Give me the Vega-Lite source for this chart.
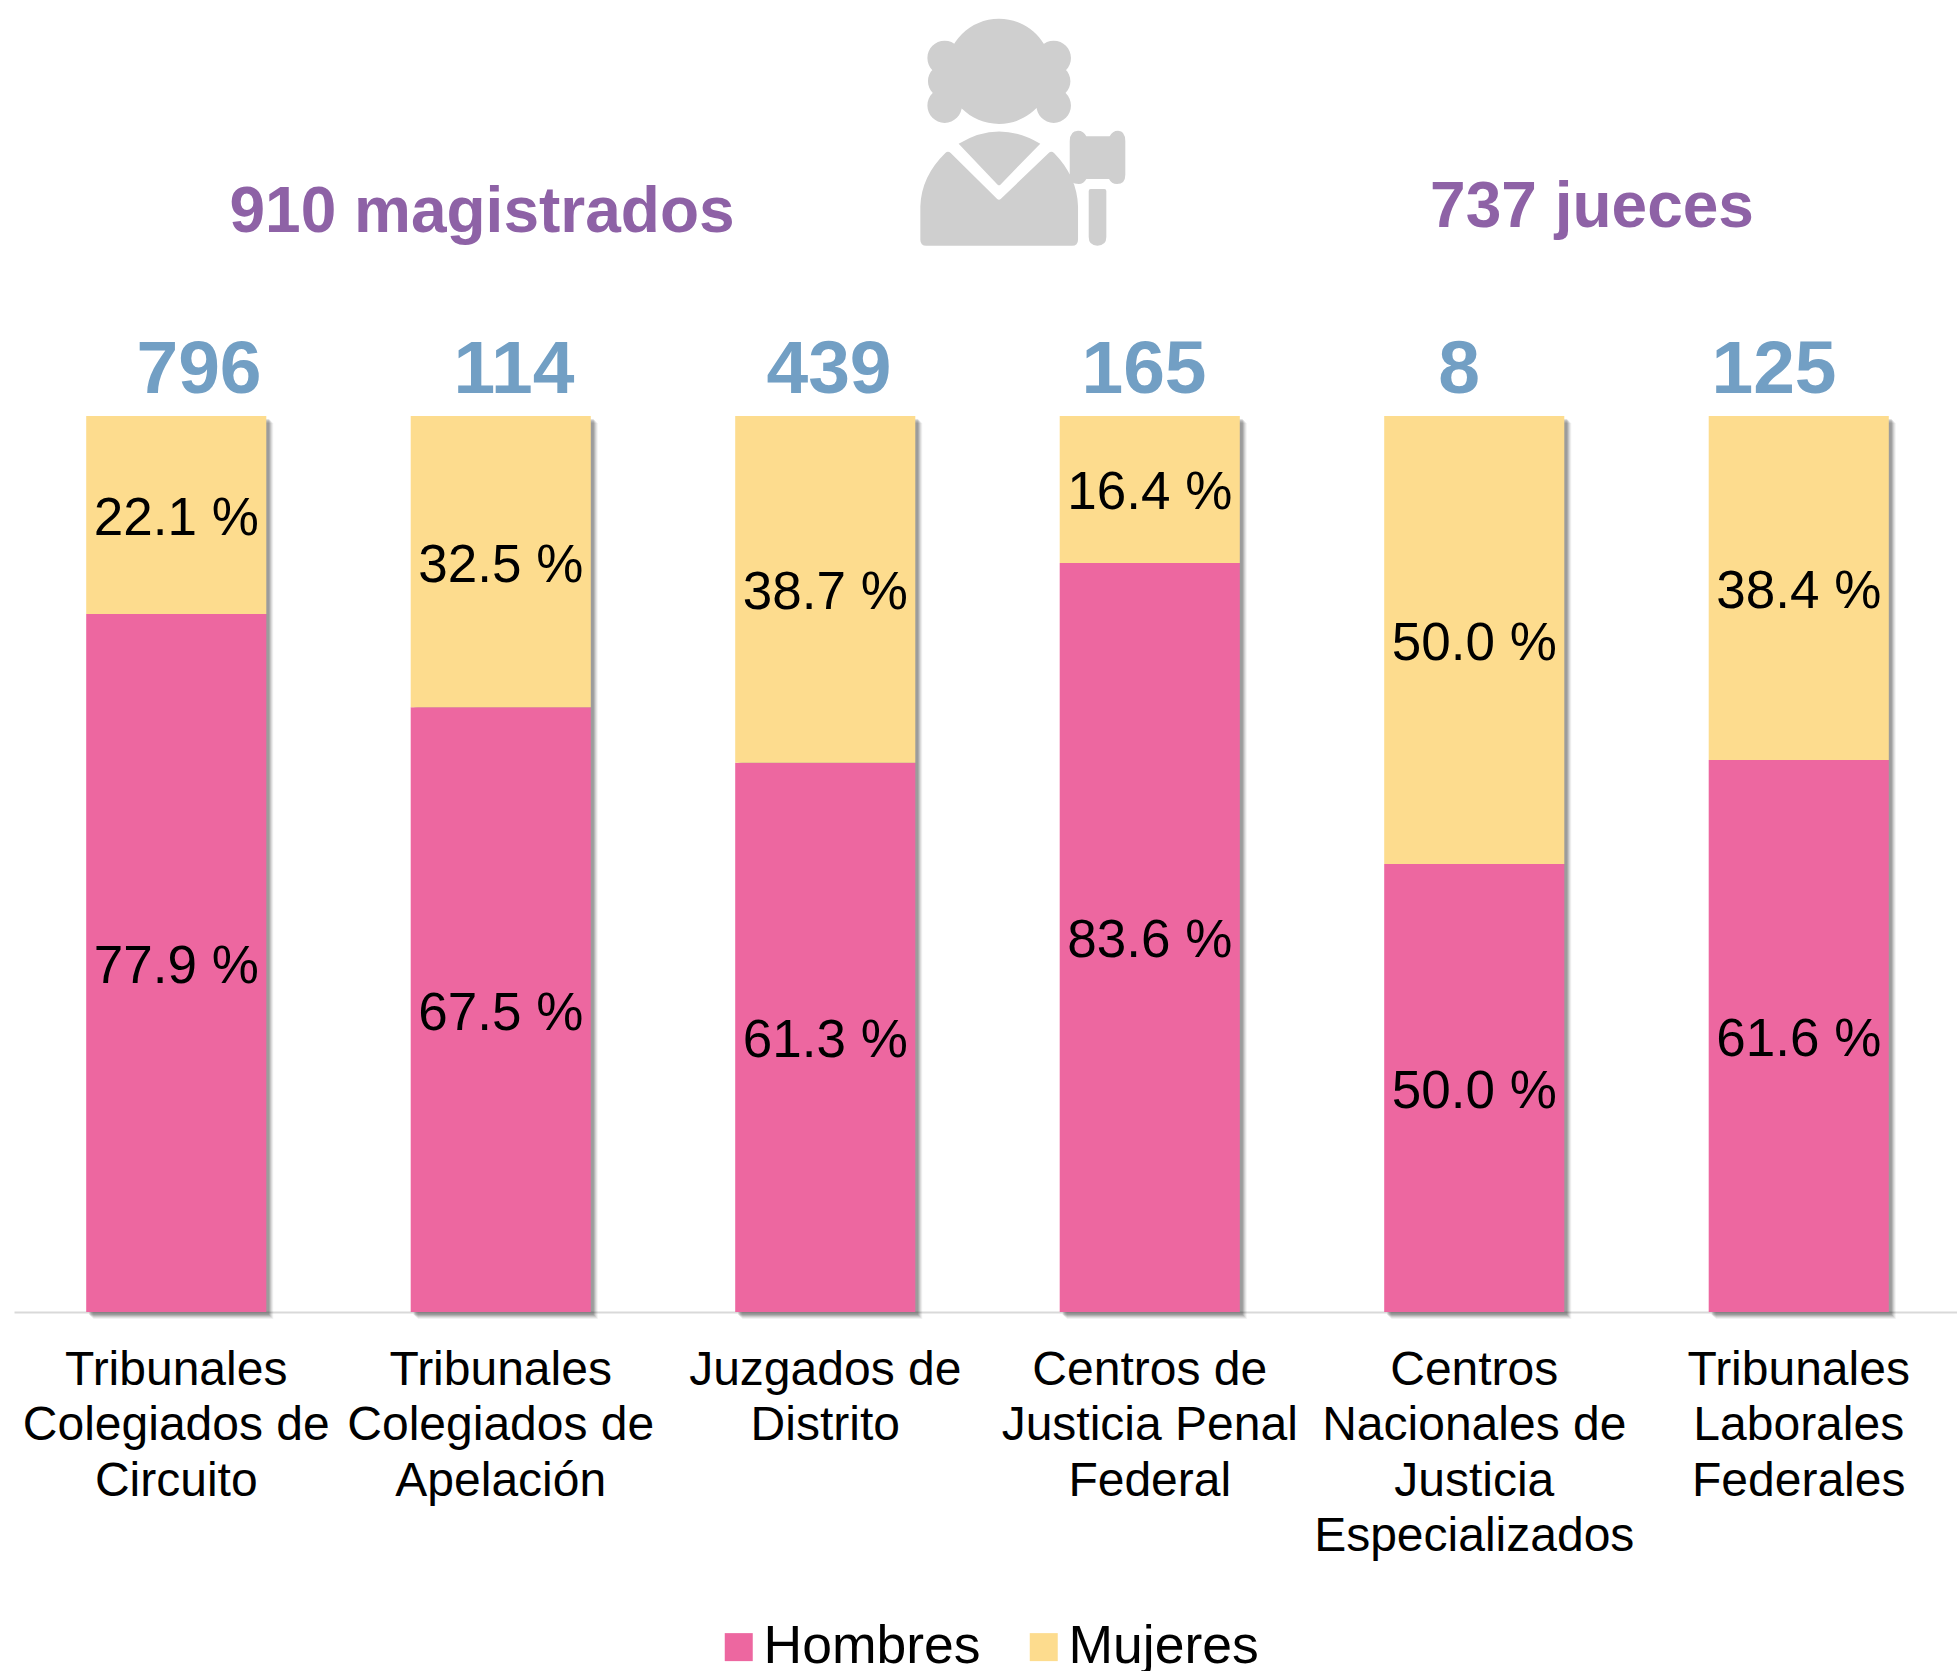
{
"$schema":"https://vega.github.io/schema/vega-lite/v6.json",
"autosize":"none",
"padding":{"left":14,"top":416,"right":0,"bottom":359},
"width":1943,"height":896,
"background":"white",
"config":{"view":{"stroke":null},"font":"Liberation Sans"},
"datasets":{
"segmentos":[
{"cat":"Tribunales Colegiados de Circuito","sexo":"Hombres","pct":77.9},
{"cat":"Tribunales Colegiados de Circuito","sexo":"Mujeres","pct":22.1},
{"cat":"Tribunales Colegiados de Apelación","sexo":"Hombres","pct":67.5},
{"cat":"Tribunales Colegiados de Apelación","sexo":"Mujeres","pct":32.5},
{"cat":"Juzgados de Distrito","sexo":"Hombres","pct":61.3},
{"cat":"Juzgados de Distrito","sexo":"Mujeres","pct":38.7},
{"cat":"Centros de Justicia Penal Federal","sexo":"Hombres","pct":83.6},
{"cat":"Centros de Justicia Penal Federal","sexo":"Mujeres","pct":16.4},
{"cat":"Centros Nacionales de Justicia Especializados","sexo":"Hombres","pct":50.0},
{"cat":"Centros Nacionales de Justicia Especializados","sexo":"Mujeres","pct":50.0},
{"cat":"Tribunales Laborales Federales","sexo":"Hombres","pct":61.6},
{"cat":"Tribunales Laborales Federales","sexo":"Mujeres","pct":38.4}
],
"totales":[
{"cat":"Tribunales Colegiados de Circuito","n":796,"total":100},
{"cat":"Tribunales Colegiados de Apelación","n":114,"total":100},
{"cat":"Juzgados de Distrito","n":439,"total":100},
{"cat":"Centros de Justicia Penal Federal","n":165,"total":100},
{"cat":"Centros Nacionales de Justicia Especializados","n":8,"total":100},
{"cat":"Tribunales Laborales Federales","n":125,"total":100}
],
"anuncios":[
{"grupo":"Magistrados","texto":"910 magistrados"},
{"grupo":"Jueces","texto":"737 jueces"}
],
"figura":[{"nombre":"Juez"}]
},
"resolve":{"scale":{"x":"independent","y":"independent"}},
"layer":[
{
"data":{"name":"totales"},
"layer":[
{"mark":{"type":"bar","color":"#000000","opacity":0.05,"xOffset":7,"yOffset":7,"y2Offset":7},"encoding":{}},
{"mark":{"type":"bar","color":"#000000","opacity":0.07,"xOffset":6,"yOffset":6,"y2Offset":6},"encoding":{}},
{"mark":{"type":"bar","color":"#000000","opacity":0.09,"xOffset":5,"yOffset":5,"y2Offset":5},"encoding":{}},
{"mark":{"type":"bar","color":"#000000","opacity":0.12,"xOffset":4,"yOffset":4,"y2Offset":4},"encoding":{}},
{"mark":{"type":"bar","color":"#000000","opacity":0.12,"xOffset":3,"yOffset":3,"y2Offset":3},"encoding":{}}
],
"encoding":{
"x":{"field":"cat","type":"nominal","sort":null,"axis":null,"scale":{"type":"band","range":[0,1947],"paddingInner":0.445,"paddingOuter":0.2225}},
"y":{"field":"total","type":"quantitative","axis":null,"scale":{"domain":[0,100],"range":[896,0]}}
}
},
{
"data":{"name":"segmentos"},
"transform":[
{"stack":"pct","groupby":["cat"],"sort":[{"field":"sexo","order":"ascending"}],"as":["y0","y1"]},
{"calculate":"(datum.y0+datum.y1)/2","as":"mid"},
{"calculate":"format(datum.pct,'.1f')+' %'","as":"etiqueta"}
],
"encoding":{
"x":{"field":"cat","type":"nominal","sort":["Tribunales Colegiados de Circuito","Tribunales Colegiados de Apelación","Juzgados de Distrito","Centros de Justicia Penal Federal","Centros Nacionales de Justicia Especializados","Tribunales Laborales Federales"],
"scale":{"type":"band","range":[0,1947],"paddingInner":0.445,"paddingOuter":0.2225},
"title":null,
"axis":{"orient":"bottom","domainColor":"#d9d9d9","domainWidth":2,"ticks":false,"grid":false,"labelAngle":0,"labelFont":"Liberation Sans","labelFontSize":48,"labelColor":"#000000","labelLineHeight":55.5,"labelPadding":34,"labelBaseline":"top","labelAlign":"center","labelLimit":0,"labelOverlap":false,"labelBound":false,"labelFlush":false,
"labelExpr":"{'Tribunales Colegiados de Circuito':['Tribunales','Colegiados de','Circuito'],'Tribunales Colegiados de Apelación':['Tribunales','Colegiados de','Apelación'],'Juzgados de Distrito':['Juzgados de','Distrito'],'Centros de Justicia Penal Federal':['Centros de','Justicia Penal','Federal'],'Centros Nacionales de Justicia Especializados':['Centros','Nacionales de','Justicia','Especializados'],'Tribunales Laborales Federales':['Tribunales','Laborales','Federales']}[datum.label]"}}
},
"layer":[
{"mark":{"type":"bar"},
"encoding":{
"y":{"field":"y0","type":"quantitative","axis":null,"scale":{"domain":[0,100],"range":[896,0]}},
"y2":{"field":"y1"},
"color":{"field":"sexo","type":"nominal","scale":{"domain":["Hombres","Mujeres"],"range":["#ed67a0","#fddc8e"]},
"legend":{"title":null,"orient":"none","legendX":698,"legendY":1204,"direction":"horizontal","columns":2,"symbolType":"square","symbolSize":784,"symbolStrokeWidth":0,"symbolOpacity":1,"labelFont":"Liberation Sans","labelFontSize":53.5,"labelColor":"#000000","labelOffset":-2,"columnPadding":36,"labelLimit":0,"padding":0}}
}},
{"mark":{"type":"text","font":"Liberation Sans","fontSize":53,"color":"#000000","baseline":"middle","align":"center","dy":4},
"encoding":{
"y":{"field":"mid","type":"quantitative","axis":null,"scale":{"domain":[0,100],"range":[896,0]}},
"text":{"field":"etiqueta","type":"nominal"}
}}
]
},
{
"data":{"name":"totales"},
"mark":{"type":"text","font":"Liberation Sans","fontSize":75,"fontWeight":"bold","color":"#729fc4","baseline":"alphabetic","align":"center","dy":-23},
"encoding":{
"x":{"field":"cat","type":"nominal","sort":null,"axis":null,"scale":{"type":"point","padding":0,"range":[185,1760]}},
"y":{"field":"total","type":"quantitative","axis":null,"scale":{"domain":[0,100],"range":[896,0]}},
"text":{"field":"n","type":"quantitative"}
}
},
{
"data":{"name":"anuncios"},
"mark":{"type":"text","font":"Liberation Sans","fontSize":64,"fontWeight":"bold","color":"#8e62a6","baseline":"middle","align":"center"},
"encoding":{
"x":{"field":"grupo","type":"nominal","sort":null,"axis":null,"scale":{"type":"point","padding":0,"range":[468,1578]}},
"y":{"field":"grupo","type":"nominal","sort":null,"axis":null,"scale":{"type":"point","padding":0,"range":[-203,-208]}},
"text":{"field":"texto","type":"nominal"}
}
},
{
"data":{"name":"figura"},
"mark":{"type":"point","filled":true,"fill":"#cfcfcf","stroke":null,"opacity":1,"size":51700,
"shape":"M-.674 -.534A.463 .463 0 1 0 .252 -.534A.463 .463 0 1 0 -.674 -.534ZM-.841 -.651A.152 .152 0 1 0 -.537 -.651A.152 .152 0 1 0 -.841 -.651ZM-.836 -.446A.147 .147 0 1 0 -.542 -.446A.147 .147 0 1 0 -.836 -.446ZM-.841 -.232A.152 .152 0 1 0 -.537 -.232A.152 .152 0 1 0 -.841 -.232ZM.118 -.651A.152 .152 0 1 0 .422 -.651A.152 .152 0 1 0 .118 -.651ZM.123 -.446A.147 .147 0 1 0 .417 -.446A.147 .147 0 1 0 .123 -.446ZM.118 -.232A.152 .152 0 1 0 .422 -.232A.152 .152 0 1 0 .118 -.232ZM-.566 .103Q-.211 -.114 .152 .103L-.199 .463Q-.211 .472 -.223 .463ZM-.903 .654Q-.894 .390 -.683 .185Q-.660 .164 -.636 .185L-.229 .587Q-.211 .604 -.194 .587L.226 .185Q.249 .164 .273 .185Q.475 .390 .484 .654L.484 .947Q.484 1 .431 1L-.850 1Q-.903 1 -.903 .947ZM.411 .082Q.411 -.012 .484 -.012Q.534 -.012 .557 .038L.762 .038Q.786 -.012 .836 -.012Q.900 -.012 .900 .082L.900 .375Q.900 .457 .827 .457Q.777 .457 .757 .413L.557 .413Q.534 .457 .490 .457Q.411 .457 .411 .375ZM.595 .501L.716 .501Q.733 .501 .733 .519L.733 .924Q.733 1 .654 1Q.578 1 .578 .924L.578 .519Q.578 .501 .595 .501Z"},
"encoding":{
"x":{"field":"nombre","type":"nominal","axis":null,"scale":{"type":"point","padding":0,"range":[1009,1009]}},
"y":{"field":"nombre","type":"nominal","axis":null,"scale":{"type":"point","padding":0,"range":[-284,-284]}}
}
}
]
}
